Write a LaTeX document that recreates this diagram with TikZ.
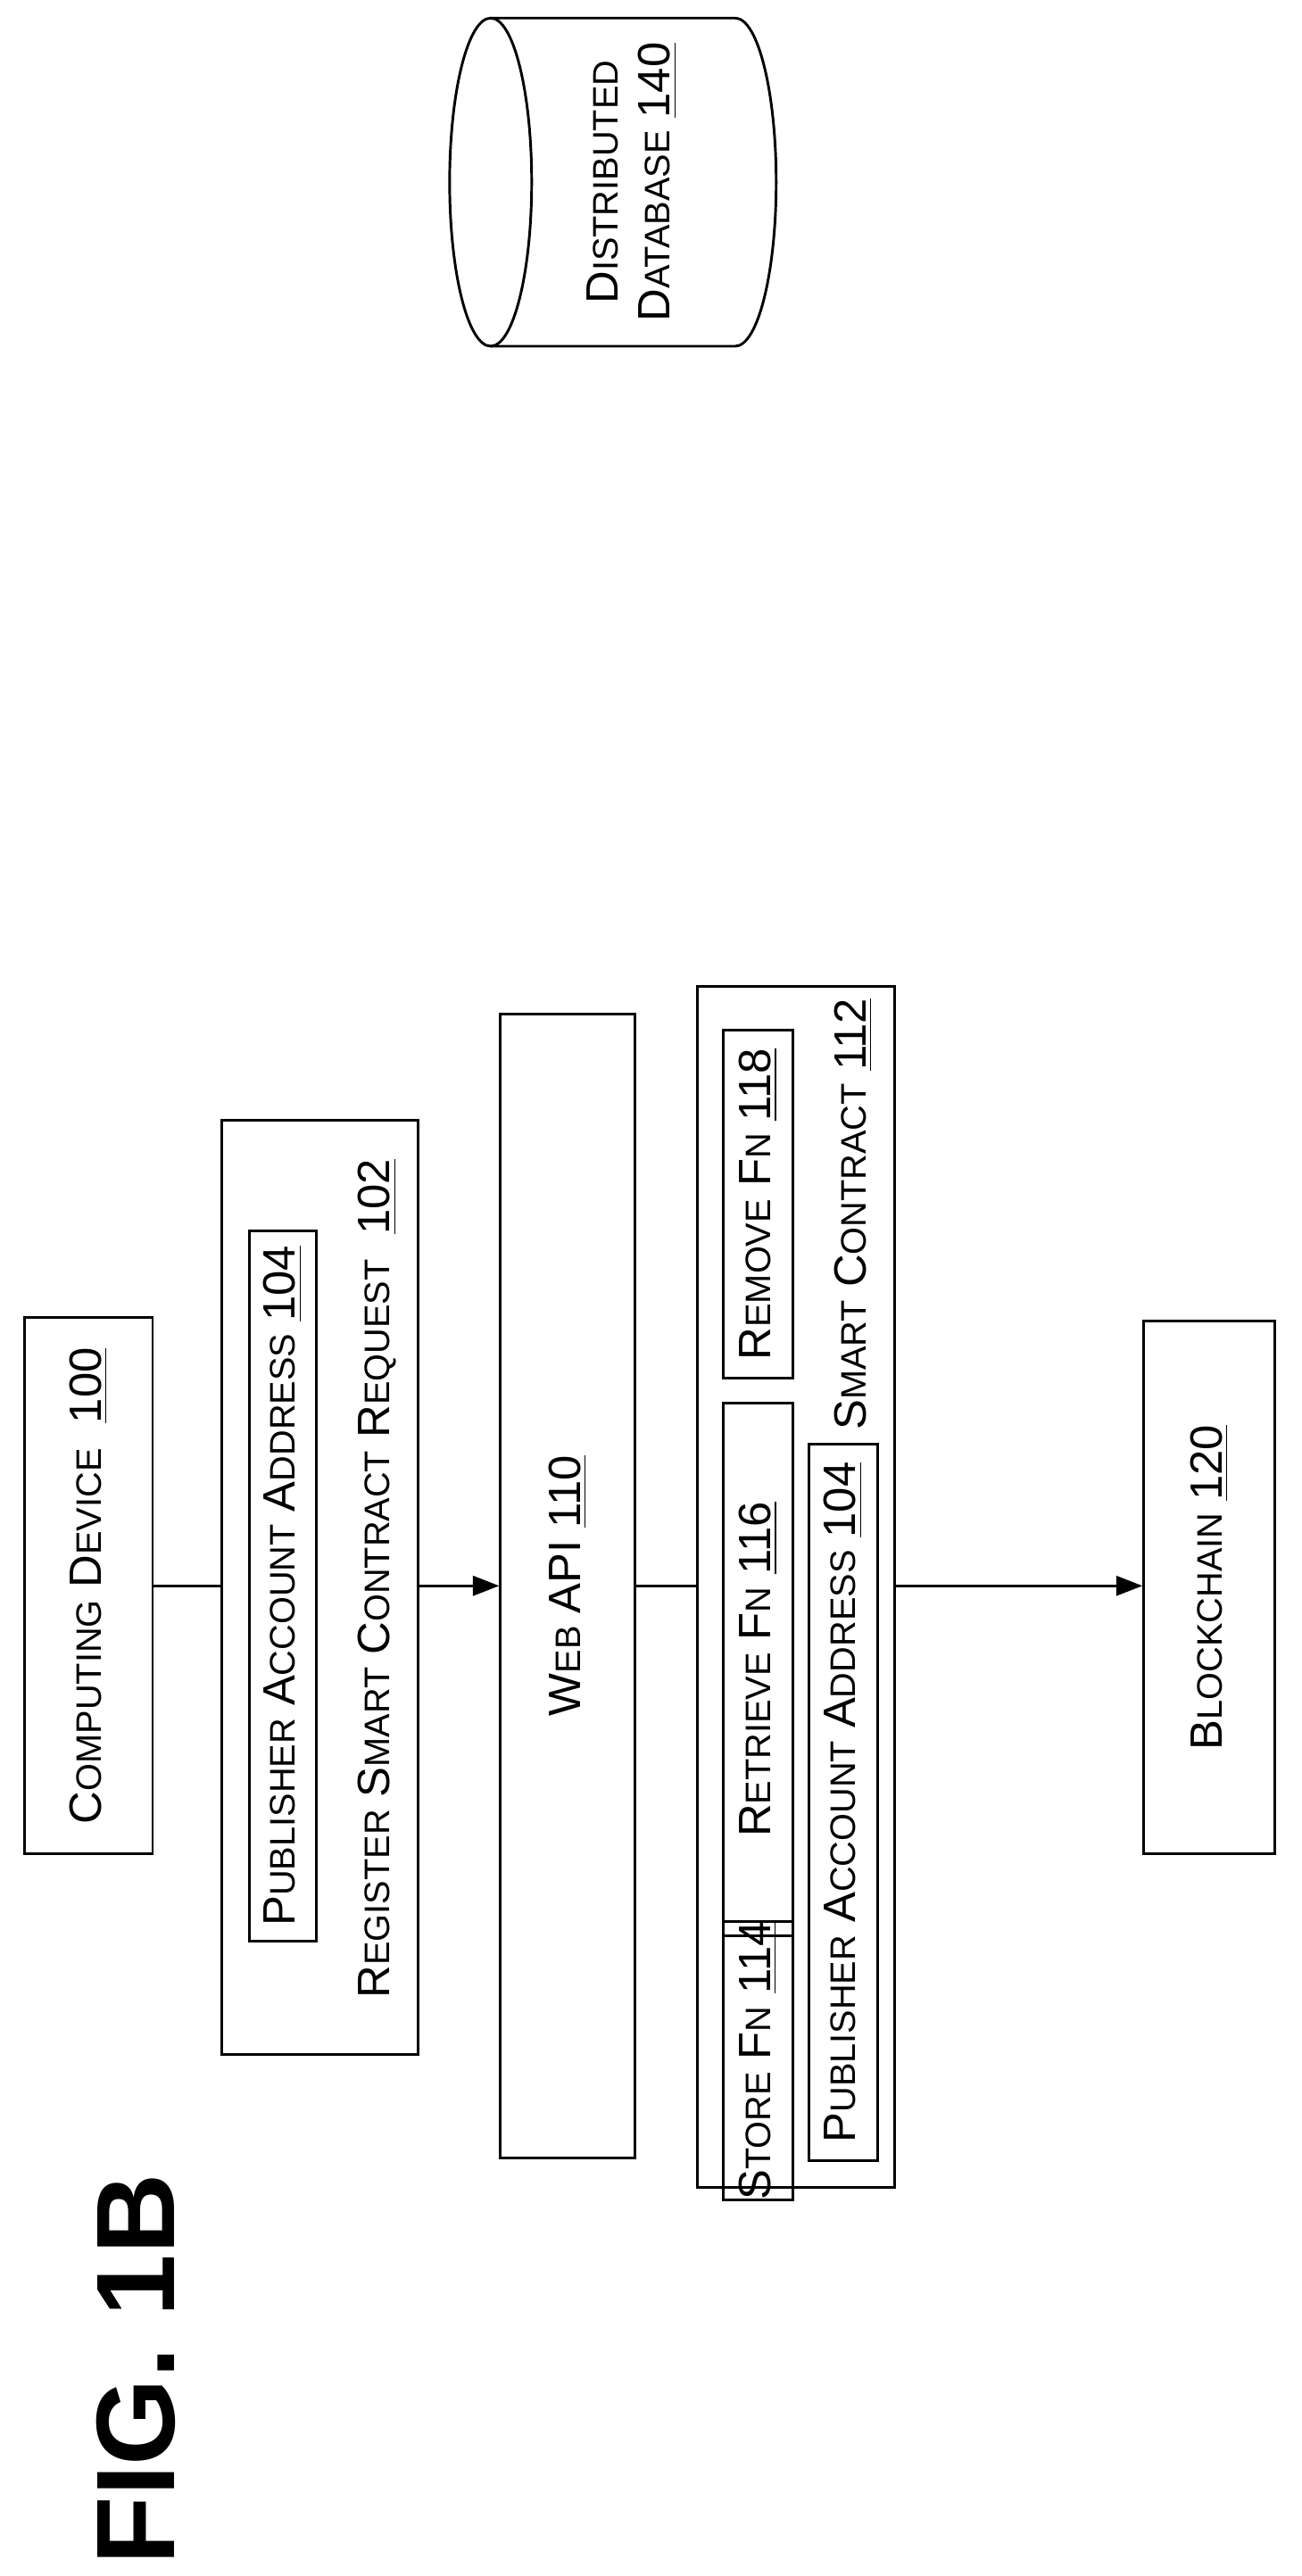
\documentclass[tikz,border=0pt]{standalone}
\usepackage{fontspec}
\setmainfont{Liberation Sans}
\usetikzlibrary{arrows.meta}
\newcommand\smc[1]{{\fontsize{10.8}{10.8}\selectfont #1}}
\begin{document}
\begin{tikzpicture}[x=0.5pt,y=-0.5pt,
  box/.style={draw,line width=0.8pt,rotate=90,inner sep=0pt,font=\fontsize{13.8}{16}\selectfont},
  lbl/.style={rotate=90,inner sep=0pt,font=\fontsize{13.8}{16}\selectfont},
  arr/.style={line width=0.8pt,-{Triangle[length=8pt,width=6pt]}},
  ln/.style={line width=0.8pt}]
\useasboundingbox (0,0) rectangle (793,1570);
\node[rotate=90,font=\bfseries\fontsize{34}{34}\selectfont,inner sep=0pt] (fig) at (83,1444) {FIG. 1B};
\node[box,minimum width=163.5pt,minimum height=39pt] (comp) at (54,966.5) {C\smc{OMPUTING} D\smc{EVICE} \ \underline{100}};
\node[box,minimum width=284.5pt,minimum height=60pt] (req) at (195,967.5) {};
\node[box,minimum width=216.5pt,minimum height=20.5pt] (pub1) at (172.5,966.5) {P\smc{UBLISHER} A\smc{CCOUNT} A\smc{DDRESS} \underline{104}};
\node[lbl] (reql) at (230,962) {R\smc{EGISTER} S\smc{MART} C\smc{ONTRACT} R\smc{EQUEST} \ \underline{102}};
\node[box,minimum width=348.5pt,minimum height=41pt] (web) at (346,966.5) {W\smc{EB} API \underline{110}};
\node[box,minimum width=366pt,minimum height=60pt] (sc) at (485,967) {};
\node[box,minimum width=61pt,minimum height=21pt] (store) at (462,1256) {S\smc{TORE} F\smc{N} \underline{114}};
\node[box,minimum width=162.5pt,minimum height=21pt] (retr) at (462,1017.5) {R\smc{ETRIEVE} F\smc{N} \underline{116}};
\node[box,minimum width=106pt,minimum height=21pt] (rem) at (462,734) {R\smc{EMOVE} F\smc{N} \underline{118}};
\node[box,minimum width=218.5pt,minimum height=21pt] (pub2) at (514,1098.5) {P\smc{UBLISHER} A\smc{CCOUNT} A\smc{DDRESS} \underline{104}};
\node[lbl] (scl) at (520,740) {S\smc{MART} C\smc{ONTRACT} \underline{112}};
\node[box,minimum width=162.5pt,minimum height=40pt] (bc) at (737,967.5) {B\smc{LOCKCHAIN} \underline{120}};
\draw[ln] (comp.south) -- (req.north |- comp.south);
\draw[arr] (req.south |- comp.south) -- (web.north |- comp.south);
\draw[ln] (web.south |- comp.south) -- (sc.north |- comp.south);
\draw[arr] (sc.south |- comp.south) -- (bc.north |- comp.south);
% cylinder
\draw[line width=0.8pt,fill=white] (299,11) -- (448,11) arc[start angle=-90,end angle=90,x radius=25,y radius=100] -- (299,211);
\draw[line width=0.8pt] (299,111) ellipse[x radius=25,y radius=100];
\node[lbl,align=center] (db) at (385,111) {D\smc{ISTRIBUTED}\\D\smc{ATABASE} \underline{140}};
\end{tikzpicture}
\end{document}
